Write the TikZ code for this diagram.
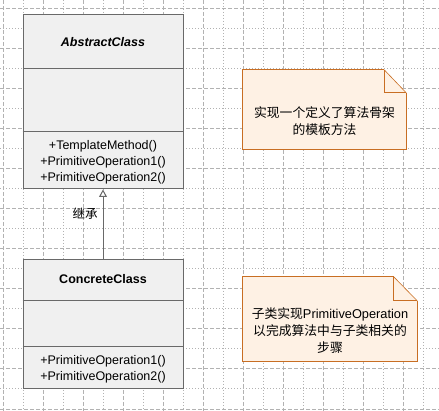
\documentclass[tikz,border=0pt]{standalone}
\usepackage{fontspec}
\setmainfont{Liberation Sans}
\newfontfamily\cjk{Noto Sans CJK SC}
\usetikzlibrary{arrows.meta}
\definecolor{gridc}{RGB}{178,178,178}
\definecolor{boxfill}{RGB}{240,240,240}
\definecolor{boxline}{RGB}{105,105,105}
\definecolor{notefill}{RGB}{254,241,228}
\definecolor{noteline}{RGB}{200,110,35}
\begin{document}
\begin{tikzpicture}[x=1pt,y=-1pt,
  classbox/.style={draw=boxline, fill=boxfill, line width=1pt, inner sep=0pt, minimum width=160pt},
  divider/.style={draw=boxline, line width=1pt},
  ctext/.style={font=\fontsize{12.5}{16}\selectfont, align=center, inner sep=0pt},
  ntext/.style={font=\fontsize{12.8}{17}\selectfont\cjk, align=center, inner sep=0pt},
  noteframe/.style={inner sep=0pt},
  notefillst/.style={fill=notefill},
  noteedge/.style={draw=noteline, line width=1pt, line join=miter},
  notediag/.style={draw=noteline, line width=0.6pt},
  gdash/.style={draw=gridc, line width=1pt, dash pattern=on 4pt off 2pt},
  gdot/.style={draw=gridc, line width=1pt, dash pattern=on 1pt off 2pt},
  inherit/.style={draw=boxline, line width=1pt, -{Triangle[open,fill=white,length=7.5pt,width=8pt]}}
]
\useasboundingbox (0,0) rectangle (439,411);
\fill[white] (0,0) rectangle (439,411);
% grid
\foreach \x in {3,43,...,403} \draw[gdash] (\x,0) -- (\x,411);
\foreach \x in {23,63,...,423} \draw[gdot] (\x,0) -- (\x,411);
\foreach \y in {9,49,...,409} \draw[gdash] (0,\y) -- (439,\y);
\foreach \y in {29,69,...,389} \draw[gdot] (0,\y) -- (439,\y);

% AbstractClass
\node[classbox, minimum height=174pt] (abs) at (103,102) {};
\draw[divider] (abs.north west) ++(0,54) -- ++(160,0);
\draw[divider] (abs.north west) ++(0,117) -- ++(160,0);
\node[ctext, font=\fontsize{12.5}{16}\selectfont\bfseries\itshape] (absname) at (103,42) {AbstractClass};
\node[ctext] (absops) at (103,162.5) {+TemplateMethod()\\+PrimitiveOperation1()\\+PrimitiveOperation2()};

% ConcreteClass
\node[classbox, minimum height=129pt] (conc) at (103,324.5) {};
\draw[divider] (conc.north west) ++(0,41) -- ++(160,0);
\draw[divider] (conc.north west) ++(0,87) -- ++(160,0);
\node[ctext, font=\fontsize{12.5}{16}\selectfont\bfseries] (concname) at (103,279.5) {ConcreteClass};
\node[ctext] (concops) at (103,369.5) {+PrimitiveOperation1()\\+PrimitiveOperation2()};

% inheritance
\draw[inherit] (conc.north) -- (abs.south);
\node[ntext, font=\fontsize{12.5}{15}\selectfont\cjk] (lbl) at (85,214) {继承};

% note 1
\node[noteframe, minimum width=163pt, minimum height=79pt] (note1) at (324.5,109.5) {};
\fill[notefillst] (note1.south west) -- (note1.north west) -- ([xshift=-22pt]note1.north east) -- ([yshift=-23pt]note1.north east) -- (note1.south east) -- cycle;
\draw[noteedge] ([yshift=-23pt]note1.north east) -- (note1.south east) -- (note1.south west) -- (note1.north west) -- ([xshift=-22pt]note1.north east);
\draw[notediag] ([xshift=-22pt]note1.north east) -- ([yshift=-23pt]note1.north east);
\draw[noteedge] ([xshift=-22pt]note1.north east) -- ([xshift=-22pt,yshift=-23pt]note1.north east) -- ([yshift=-23pt]note1.north east);
\node[ntext] (note1txt) at (324.5,120.7) {实现一个定义了算法骨架\\的模板方法};

% note 2
\node[noteframe, minimum width=174pt, minimum height=84pt] (note2) at (330,319) {};
\fill[notefillst] (note2.south west) -- (note2.north west) -- ([xshift=-23.5pt]note2.north east) -- ([yshift=-24pt]note2.north east) -- (note2.south east) -- cycle;
\draw[noteedge] ([yshift=-24pt]note2.north east) -- (note2.south east) -- (note2.south west) -- (note2.north west) -- ([xshift=-23.5pt]note2.north east);
\draw[notediag] ([xshift=-23.5pt]note2.north east) -- ([yshift=-24pt]note2.north east);
\draw[noteedge] ([xshift=-23.5pt]note2.north east) -- ([xshift=-23.5pt,yshift=-24pt]note2.north east) -- ([yshift=-24pt]note2.north east);
\node[ntext] (note2txt) at (330,330.2) {子类实现{\rmfamily PrimitiveOperation}\\以完成算法中与子类相关的\\步骤};
\end{tikzpicture}
\end{document}
